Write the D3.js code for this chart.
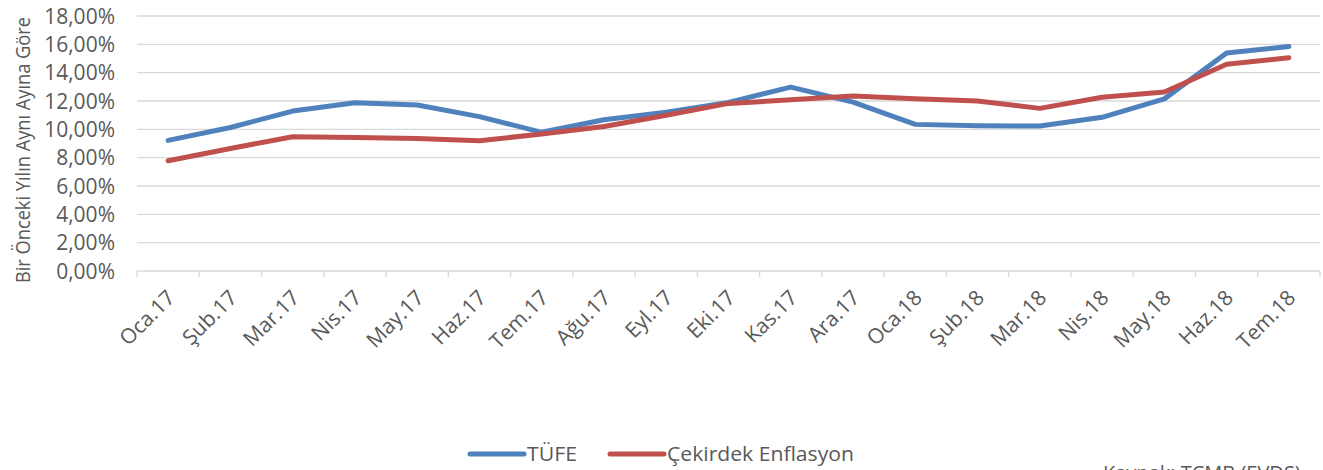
<!DOCTYPE html>
<html>
<head>
<meta charset="utf-8">
<script src="https://cdn.jsdelivr.net/npm/d3@7"></script>
<style>
  body { margin: 0; background: #fff; }
  text { font-family: "Open Sans", sans-serif; fill: #595959; }
</style>
</head>
<body>
<div id="chart"></div>
<script>
// months on the x axis
const months = ["Oca.17", "Şub.17", "Mar.17", "Nis.17", "May.17", "Haz.17", "Tem.17", "Ağu.17", "Eyl.17", "Eki.17",
    "Kas.17", "Ara.17", "Oca.18", "Şub.18", "Mar.18", "Nis.18", "May.18", "Haz.18", "Tem.18"];

// annual change, %
const tufe = [9.22, 10.13, 11.29, 11.87, 11.72, 10.90, 9.79, 10.68, 11.20, 11.90,
    12.98, 11.92, 10.35, 10.26, 10.23, 10.85, 12.15, 15.39, 15.85];
const cekirdek = [7.78, 8.65, 9.48, 9.43, 9.36, 9.20, 9.67, 10.20, 11.00, 11.83,
    12.08, 12.35, 12.16, 12.00, 11.48, 12.26, 12.64, 14.59, 15.05];

const yTicks = [0, 2, 4, 6, 8, 10, 12, 14, 16, 18];

const series = [
    {name: "TÜFE", values: tufe, color: "#4F81BD"},
    {name: "Çekirdek Enflasyon", values: cekirdek, color: "#C0504D"}
];

const width = 1323, height = 470;
const margin = {top: 16, right: 3, bottom: 199, left: 137};

var svg = d3.select("#chart")
    .append("svg")
        .attr("width", width)
        .attr("height", height);

var x = d3.scaleBand()
    .domain(months)
    .range([margin.left, width - margin.right]);

var y = d3.scaleLinear()
    .domain([0, 18])
    .range([height - margin.bottom, margin.top]);

// gridlines
svg.append("g")
    .selectAll("line")
    .data(yTicks.filter(d => d > 0))
    .join("line")
        .attr("x1", x.range()[0])
        .attr("x2", x.range()[1])
        .attr("y1", d => y(d))
        .attr("y2", d => y(d))
        .attr("stroke", "#d9d9d9")
        .attr("stroke-width", 1.3);

// y tick labels
svg.append("g")
    .selectAll("text")
    .data(yTicks)
    .join("text")
        .attr("x", 115)
        .attr("y", d => y(d))
        .attr("dy", "0.36em")
        .attr("text-anchor", "end")
        .style("font-size", "21px")
        .text(d => d.toFixed(2).replace(".", ",") + "%");

// x axis line + ticks at band edges
var xAxis = svg.append("g");
xAxis.append("line")
    .attr("x1", x.range()[0])
    .attr("x2", x.range()[1])
    .attr("y1", y(0))
    .attr("y2", y(0))
    .attr("stroke", "#d9d9d9")
    .attr("stroke-width", 1.3);
xAxis.selectAll(".tick")
    .data(months.map(m => x(m)).concat([x.range()[1]]))
    .join("line")
        .attr("class", "tick")
        .attr("x1", d => d)
        .attr("x2", d => d)
        .attr("y1", y(0))
        .attr("y2", y(0) + 6)
        .attr("stroke", "#d9d9d9")
        .attr("stroke-width", 1.3);

// x labels, rotated
xAxis.selectAll(".lbl")
    .data(months)
    .join("text")
        .attr("class", "lbl")
        .attr("text-anchor", "end")
        .style("font-size", "21px")
        .attr("transform", d => "translate(" + (x(d) + x.bandwidth() / 2 + 8) + "," + (y(0) + 28) + ") rotate(-45)")
        .text(d => d);

// y axis title
svg.append("text")
    .attr("text-anchor", "middle")
    .attr("transform", "translate(30,150) rotate(-90)")
    .style("font-size", "20px")
    .attr("textLength", 266)
    .attr("lengthAdjust", "spacingAndGlyphs")
    .text("Bir Önceki Yılın Aynı Ayına Göre");

// lines
var line = d3.line()
    .x((d, i) => x(months[i]) + x.bandwidth() / 2)
    .y(d => y(d));

svg.selectAll(".series")
    .data(series)
    .join("path")
        .attr("class", "series")
        .attr("d", d => line(d.values))
        .attr("fill", "none")
        .attr("stroke", d => d.color)
        .attr("stroke-width", 5)
        .attr("stroke-linejoin", "round")
        .attr("stroke-linecap", "round");

// legend
var legendX = [468, 608];
var legend = svg.selectAll(".legend")
    .data(series)
    .join("g")
        .attr("class", "legend")
        .attr("transform", (d, i) => "translate(" + legendX[i] + ",454)");
legend.append("line")
    .attr("x1", 2)
    .attr("x2", 56)
    .attr("stroke", d => d.color)
    .attr("stroke-width", 5)
    .attr("stroke-linecap", "round");
legend.append("text")
    .attr("x", 59)
    .attr("dy", "0.35em")
    .style("font-size", "20px")
    .attr("textLength", (d, i) => i == 0 ? 50 : 187)
    .attr("lengthAdjust", "spacingAndGlyphs")
    .text(d => d.name);

// source note (cut off at the bottom edge, as in the original)
svg.append("text")
    .attr("x", 1103)
    .attr("y", 480)
    .style("font-size", "20px")
    .text("Kaynak: TCMB (EVDS)");
</script>
</body>
</html>
